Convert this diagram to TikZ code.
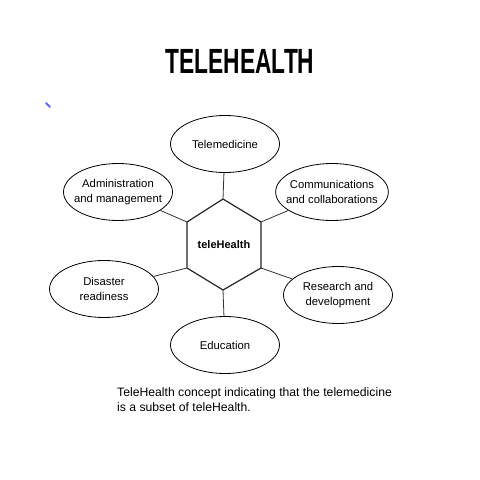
\documentclass[tikz,border=0pt]{standalone}
\usepackage{fontspec}
\setmainfont{Liberation Sans}
\usetikzlibrary{shapes.geometric}
\begin{document}
\begin{tikzpicture}[x=1pt,y=-1pt,
  topic/.style={ellipse,draw,line width=0.8pt,minimum width=109pt,minimum height=57pt,inner xsep=-6pt,inner ysep=0pt,align=center,font=\fontsize{11.3}{14.5}\selectfont},
  link/.style={draw,line width=0.8pt,black!80},
  hexline/.style={draw,line width=1.2pt,black!85}]
\useasboundingbox (0,0) rectangle (480,480);
\fill[white] (0,0) rectangle (480,480);
% title
\node (title) at (240,61) {\scalebox{0.65}[1]{\fontsize{35}{35}\selectfont\bfseries TELEHEALTH}};
% small blue mark
\coordinate (m1) at (46,103);
\coordinate (m2) at (50,107);
\draw[blue!60,line width=2pt,line cap=round] (m1) -- (m2);
% hexagon
\coordinate (hT) at (223,199);
\coordinate (hUR) at (261,222);
\coordinate (hLR) at (261,268);
\coordinate (hB) at (223,290);
\coordinate (hLL) at (187,268);
\coordinate (hUL) at (187,222);
\draw[hexline,line join=round] (hT) -- (hUR) -- (hLR) -- (hB) -- (hLL) -- (hUL) -- cycle;
\node[font=\fontsize{11}{13}\selectfont\bfseries] (center) at (224,245) {teleHealth};
% topics
\node[topic] (tele) at (225,144) {Telemedicine};
\node[topic] (admin) at (118,192) {Administration\\and management};
\node[topic] (comm) at (332,192) {Communications\\and collaborations};
\node[topic] (dis) at (104,289) {Disaster\\readiness};
\node[topic] (res) at (338,295) {Research and\\development};
\node[topic] (edu) at (225,345) {Education};
% connectors
\draw[link] (tele) -- (hT);
\draw[link] (admin) -- (hUL);
\draw[link] (comm) -- (hUR);
\draw[link] (dis) -- (hLL);
\draw[link] (res) -- (hLR);
\draw[link] (edu) -- (hB);
% caption
\node[anchor=north west,align=left,inner sep=0pt,font=\fontsize{12.2}{15}\selectfont] (cap) at (117,387) {TeleHealth concept indicating that the telemedicine\\is a subset of teleHealth.};
\end{tikzpicture}
\end{document}
